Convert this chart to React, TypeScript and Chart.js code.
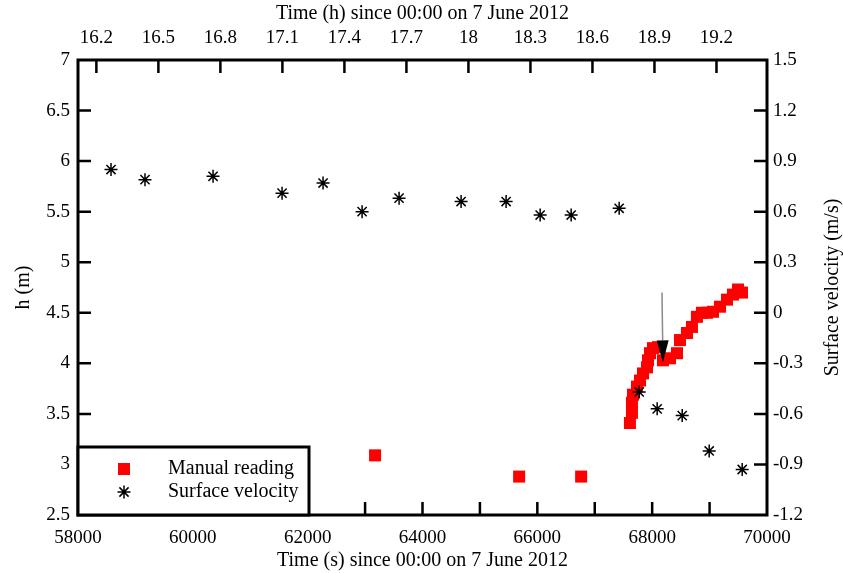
import { useEffect, useRef } from 'react';
import { Chart, registerables } from 'chart.js';

Chart.register(...registerables);

// ---- data (time in seconds since 00:00 on 7 June 2012) ----
const manualTime = [
  63174, 65683, 66763,
  67613, 67648, 67648, 67666, 67736, 67788, 67841, 67910, 67928, 67962, 68014, 68101,
  68188, 68310, 68432, 68484, 68606, 68693, 68780, 68867, 68955, 69059, 69181, 69303,
  69407, 69495, 69564,
];
const manualLevel = [
  3.09, 2.88, 2.88,
  3.41, 3.51, 3.61, 3.69, 3.77, 3.83, 3.90, 3.96, 4.03, 4.10, 4.15, 4.16,
  4.03, 4.05, 4.10, 4.23, 4.30, 4.36, 4.46, 4.50, 4.50, 4.51, 4.56, 4.63,
  4.68, 4.73, 4.70,
];

const velocityTime = [
  58575, 59167, 60352, 61554, 62268, 62948, 63592, 64672, 65456, 66049, 66589, 67425,
  67774, 68087, 68523, 68993, 69568,
];
const velocityValue = [
  0.85, 0.79, 0.81, 0.71, 0.77, 0.60, 0.68, 0.66, 0.66, 0.58, 0.58, 0.62,
  -0.47, -0.57, -0.61, -0.82, -0.93,
];

const secondTicks = [58000, 59000, 60000, 61000, 62000, 63000, 64000, 65000, 66000, 67000, 68000, 69000, 70000];
const hourTicks = [16.2, 16.5, 16.8, 17.1, 17.4, 17.7, 18, 18.3, 18.6, 18.9, 19.2];
const levelTicks = [2.5, 3, 3.5, 4, 4.5, 5, 5.5, 6, 6.5, 7];
const velocityTicks = [-1.2, -0.9, -0.6, -0.3, 0, 0.3, 0.6, 0.9, 1.2, 1.5];

const arrowStart = { t: 68171, h: 4.70 };
const arrowEnd = { t: 68188, h: 4.01 };

const labelManual = 'Manual reading';
const labelVelocity = 'Surface velocity';
const titleBottom = 'Time (s) since 00:00 on 7 June 2012';
const titleTop = 'Time (h) since 00:00 on 7 June 2012';
const titleLeft = 'h (m)';
const titleRight = 'Surface velocity (m/s)';

const FAMILY = 'Liberation Serif';
const tickFont = { family: FAMILY, size: 19 };
const titleFont = { family: FAMILY, size: 20 };

const decorPlugin = {
  id: 'decor',
  afterDatasetsDraw(chart: any) {
    const { ctx, chartArea: a, scales } = chart;
    const TL = 13;
    ctx.save();
    ctx.strokeStyle = '#000';
    ctx.lineWidth = 2.5;
    ctx.beginPath();
    for (const v of secondTicks) {
      if (v <= scales.x.min || v >= scales.x.max) continue;
      const x = scales.x.getPixelForValue(v);
      ctx.moveTo(x, a.bottom);
      ctx.lineTo(x, a.bottom - TL);
    }
    for (const v of hourTicks) {
      const x = scales.x2.getPixelForValue(v);
      ctx.moveTo(x, a.top);
      ctx.lineTo(x, a.top + TL);
    }
    for (const v of levelTicks) {
      if (v <= scales.y.min || v >= scales.y.max) continue;
      const y = scales.y.getPixelForValue(v);
      ctx.moveTo(a.left, y);
      ctx.lineTo(a.left + TL, y);
    }
    for (const v of velocityTicks) {
      if (v <= scales.y2.min || v >= scales.y2.max) continue;
      const y = scales.y2.getPixelForValue(v);
      ctx.moveTo(a.right, y);
      ctx.lineTo(a.right - TL, y);
    }
    ctx.stroke();

    // arrow
    const x1 = scales.x.getPixelForValue(arrowStart.t);
    const y1 = scales.y.getPixelForValue(arrowStart.h);
    const x2 = scales.x.getPixelForValue(arrowEnd.t);
    const y2 = scales.y.getPixelForValue(arrowEnd.h);
    const ang = Math.atan2(y2 - y1, x2 - x1);
    const headLen = 22;
    const headHalf = 6;
    const bx = x2 - headLen * Math.cos(ang);
    const by = y2 - headLen * Math.sin(ang);
    ctx.strokeStyle = '#8a8a8a';
    ctx.lineWidth = 1.5;
    ctx.beginPath();
    ctx.moveTo(x1, y1);
    ctx.lineTo(bx, by);
    ctx.stroke();
    ctx.fillStyle = '#000';
    ctx.beginPath();
    ctx.moveTo(x2, y2);
    ctx.lineTo(bx + headHalf * Math.sin(ang), by - headHalf * Math.cos(ang));
    ctx.lineTo(bx - headHalf * Math.sin(ang), by + headHalf * Math.cos(ang));
    ctx.closePath();
    ctx.fill();

    // frame
    ctx.strokeStyle = '#000';
    ctx.lineWidth = 3;
    ctx.strokeRect(a.left, a.top, a.right - a.left, a.bottom - a.top);

    // legend box
    const lw = 231;
    const lh = 68;
    const lx = a.left;
    const ly = a.bottom - lh;
    ctx.fillStyle = '#fff';
    ctx.fillRect(lx, ly, lw, lh);
    ctx.strokeRect(lx, ly, lw, lh);
    const mx = lx + 46;
    const y1l = ly + 22;
    const y2l = ly + 45;
    ctx.fillStyle = '#ff0000';
    ctx.fillRect(mx - 6, y1l - 6, 12, 12);
    ctx.strokeStyle = '#000';
    ctx.lineWidth = 1.5;
    const r = 6.5;
    const d = r * Math.SQRT1_2;
    ctx.beginPath();
    ctx.moveTo(mx, y2l - r); ctx.lineTo(mx, y2l + r);
    ctx.moveTo(mx - r, y2l); ctx.lineTo(mx + r, y2l);
    ctx.moveTo(mx - d, y2l - d); ctx.lineTo(mx + d, y2l + d);
    ctx.moveTo(mx - d, y2l + d); ctx.lineTo(mx + d, y2l - d);
    ctx.stroke();
    ctx.fillStyle = '#000';
    ctx.font = `20px "${FAMILY}"`;
    ctx.textAlign = 'left';
    ctx.textBaseline = 'middle';
    ctx.fillText(labelManual, lx + 90, y1l);
    ctx.fillText(labelVelocity, lx + 90, y2l);

    // right axis title (reads bottom to top)
    ctx.save();
    ctx.translate(833, (a.top + a.bottom) / 2);
    ctx.rotate(-Math.PI / 2);
    ctx.textAlign = 'center';
    ctx.textBaseline = 'middle';
    ctx.font = `20px "${FAMILY}"`;
    ctx.fillText(titleRight, 0, 0);
    ctx.restore();

    ctx.restore();
  },
};

export default function App() {
  const ref = useRef<HTMLCanvasElement>(null);

  useEffect(() => {
    if (!ref.current) return;
    const chart = new Chart(ref.current, {
      type: 'scatter',
      data: {
        datasets: [
          {
            label: labelManual,
            data: manualTime.map((t, i) => ({ x: t, y: manualLevel[i] })),
            xAxisID: 'x',
            yAxisID: 'y',
            order: 1,
            pointStyle: 'rect',
            pointRadius: 8.5,
            pointHoverRadius: 8.5,
            backgroundColor: '#ff0000',
            borderColor: '#ff0000',
            borderWidth: 0,
            showLine: false,
          },
          {
            label: labelVelocity,
            data: velocityTime.map((t, i) => ({ x: t, y: velocityValue[i] })),
            xAxisID: 'x',
            yAxisID: 'y2',
            order: 0,
            pointStyle: 'star',
            pointRadius: 6.5,
            pointHoverRadius: 6.5,
            backgroundColor: '#000',
            borderColor: '#000',
            borderWidth: 1.5,
            showLine: false,
          },
        ],
      },
      options: {
        responsive: false,
        animation: false,
        events: [],
        layout: { padding: 0 },
        plugins: {
          legend: { display: false },
          tooltip: { enabled: false },
          title: { display: false },
        },
        scales: {
          x: {
            type: 'linear',
            position: 'bottom',
            min: 58000,
            max: 70000,
            afterBuildTicks: (s: any) => { s.ticks = secondTicks.map((v) => ({ value: v })); },
            afterFit: (s: any) => { s.height = 58; },
            grid: { display: false, drawTicks: false },
            border: { display: false },
            ticks: {
              autoSkip: false,
              maxRotation: 0,
              padding: 12,
              color: '#000',
              font: tickFont,
              callback: (v: any) => (Number(v) % 2000 === 0 ? String(v) : ''),
            },
            title: { display: true, text: titleBottom, color: '#000', font: titleFont, padding: { top: 0, bottom: 0 } },
          },
          x2: {
            type: 'linear',
            position: 'top',
            min: 58000 / 3600,
            max: 70000 / 3600,
            afterBuildTicks: (s: any) => { s.ticks = hourTicks.map((v) => ({ value: v })); },
            afterFit: (s: any) => { s.height = 60; },
            grid: { display: false, drawTicks: false },
            border: { display: false },
            ticks: {
              autoSkip: false,
              maxRotation: 0,
              padding: 11,
              color: '#000',
              font: tickFont,
              callback: (v: any) => String(v),
            },
            title: { display: true, text: titleTop, color: '#000', font: titleFont, padding: { top: 2, bottom: 0 } },
          },
          y: {
            type: 'linear',
            position: 'left',
            min: 2.5,
            max: 7,
            afterBuildTicks: (s: any) => { s.ticks = levelTicks.map((v) => ({ value: v })); },
            afterFit: (s: any) => { s.width = 78; },
            grid: { display: false, drawTicks: false },
            border: { display: false },
            ticks: {
              autoSkip: false,
              padding: 8,
              color: '#000',
              font: tickFont,
              callback: (v: any) => String(v),
            },
            title: { display: true, text: titleLeft, color: '#000', font: titleFont, padding: { top: 12, bottom: 0 } },
          },
          y2: {
            type: 'linear',
            position: 'right',
            min: -1.2,
            max: 1.5,
            afterBuildTicks: (s: any) => { s.ticks = velocityTicks.map((v) => ({ value: v })); },
            afterFit: (s: any) => { s.width = 76; },
            grid: { display: false, drawTicks: false },
            border: { display: false },
            ticks: {
              autoSkip: false,
              padding: 6,
              color: '#000',
              font: tickFont,
              callback: (v: any) => String(v),
            },
          },
        },
      },
      plugins: [decorPlugin],
    });
    return () => chart.destroy();
  }, []);

  return (
    <div style={{ position: 'absolute', left: 0, top: 0, width: 843, height: 573, background: '#fff' }}>
      <canvas ref={ref} width={843} height={573} style={{ display: 'block' }} />
    </div>
  );
}
